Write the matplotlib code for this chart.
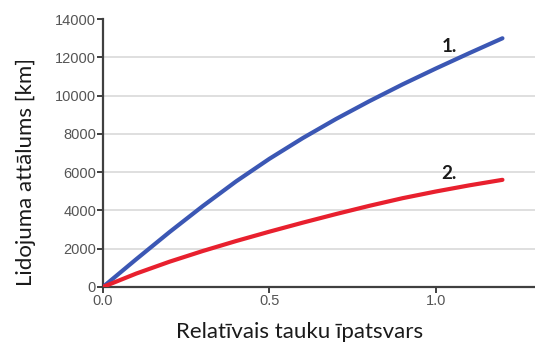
import matplotlib
matplotlib.use("Agg")
from matplotlib import pyplot as plt

# fat share vs flight range
fat_share = [0.0, 0.1, 0.2, 0.3, 0.4, 0.5, 0.6, 0.7, 0.8, 0.9, 1.0, 1.1, 1.2]
range_1 = [0, 1450, 2870, 4230, 5520, 6700, 7780, 8780, 9710, 10590, 11420, 12220, 13000]
range_2 = [0, 700, 1320, 1880, 2400, 2890, 3360, 3810, 4240, 4640, 4990, 5310, 5600]
curve_labels = ["1.", "2."]
label_pos = [(1.04, 12550), (1.04, 5950)]
y_ticks = [0, 2000, 4000, 6000, 8000, 10000, 12000, 14000]
x_ticks = [0.0, 0.5, 1.0]

plt.rcParams['font.family'] = ['Liberation Sans', 'DejaVu Sans']

fig = plt.figure(figsize=(5.35, 3.42), dpi=100)
ax = fig.add_axes([0.1925, 0.161, 0.807, 0.783])

ax.plot(fat_share, range_1, color='#3b57b4', lw=3.0, solid_capstyle='round', zorder=3)
ax.plot(fat_share, range_2, color='#e8202e', lw=3.0, solid_capstyle='round', zorder=3)

for txt, (x, y) in zip(curve_labels, label_pos):
    ax.text(x, y, txt, fontsize=13.5, fontweight='bold', color='#1a1a1a', ha='center', va='center',
            family=['Lato', 'DejaVu Sans'])

ax.set_xlim(0, 1.297)
ax.set_ylim(0, 14000)
ax.set_yticks(y_ticks)
ax.set_xticks(x_ticks)
ax.set_xticklabels([f'{v:.1f}' for v in x_ticks])

ax.grid(axis='y', color='#d9d9d9', lw=1.2)
ax.yaxis.get_gridlines()[-1].set_visible(False)
ax.set_axisbelow(True)

for s in ['top', 'right']:
    ax.spines[s].set_visible(False)
for s in ['left', 'bottom']:
    ax.spines[s].set_color('#404040')
    ax.spines[s].set_linewidth(1.6)

ax.tick_params(axis='both', direction='out', length=4, width=1.4, color='#404040',
               labelsize=10.5, labelcolor='#555555', pad=1)

ax.set_ylabel('Lidojuma attālums [km]', fontsize=16, color='#1a1a1a', family=['Lato', 'DejaVu Sans'])
ax.yaxis.set_label_coords(-0.155, 0.43)
ax.set_xlabel('Relatīvais tauku īpatsvars', fontsize=16, color='#1a1a1a', family=['Lato', 'DejaVu Sans'])
ax.xaxis.set_label_coords(0.455, -0.13)

fig.savefig('out.png', dpi=100)
